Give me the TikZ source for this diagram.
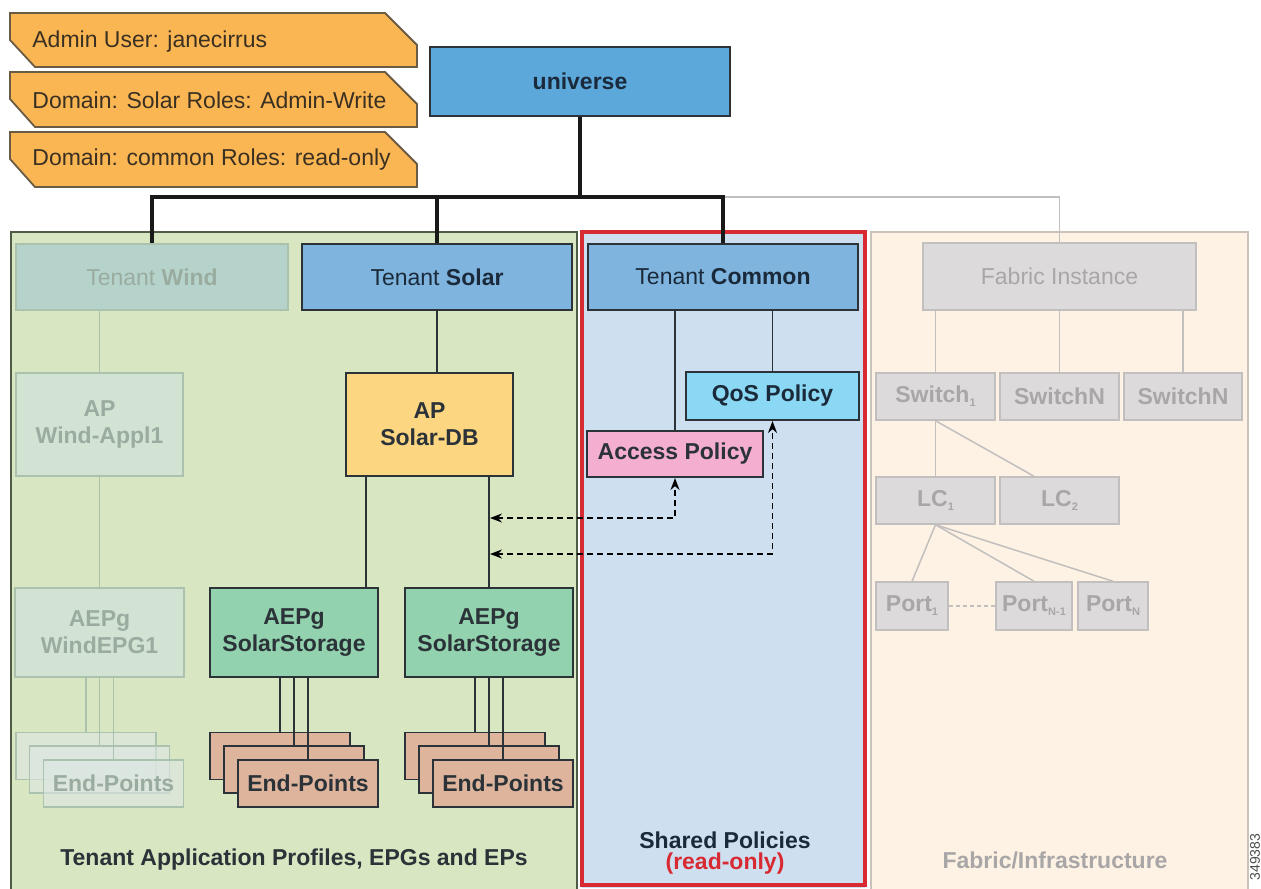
\documentclass[tikz,border=0pt]{standalone}
\usepackage{fontspec}
\setmainfont{Liberation Sans}
\usetikzlibrary{arrows.meta}

\definecolor{tagfill}{HTML}{FBB654}
\definecolor{tagline}{HTML}{6A5B44}
\definecolor{tagtext}{HTML}{3A3022}
\definecolor{ink}{HTML}{2B3238}
\definecolor{navy}{HTML}{1B2A3A}
\definecolor{unifill}{HTML}{5DA8DB}
\definecolor{tenantblue}{HTML}{7EB4DE}
\definecolor{apyellow}{HTML}{FDD682}
\definecolor{qoscyan}{HTML}{8AD8F4}
\definecolor{accpink}{HTML}{F3AED0}
\definecolor{epggreen}{HTML}{92D2AE}
\definecolor{eptan}{HTML}{DEB59C}
\definecolor{windtenant}{HTML}{B6D3CB}
\definecolor{windfill}{HTML}{D3E3D3}
\definecolor{windep}{HTML}{DDE7E4}
\definecolor{windline}{HTML}{ABC2AE}
\definecolor{windtext}{HTML}{9AACA0}
\definecolor{greenpanel}{HTML}{D8E6C1}
\definecolor{greenline}{HTML}{4F5B45}
\definecolor{bluepanel}{HTML}{CEDFF0}
\definecolor{roRed}{HTML}{D82A32}
\definecolor{creampanel}{HTML}{FDF2E3}
\definecolor{creamline}{HTML}{C9C3BB}
\definecolor{fabfill}{HTML}{DDDADB}
\definecolor{fabline}{HTML}{C2BFBF}
\definecolor{fabtext}{HTML}{A9A6A7}

\newcommand\lowsub[1]{\raisebox{-2pt}{\fontsize{5.5}{5.5}\selectfont #1}}

\begin{document}
\begin{tikzpicture}[x=0.5pt,y=-0.5pt,
  every node/.style={font=\fontsize{11.5}{13.5}\selectfont, align=center, inner sep=0pt},
  bold/.style={font=\fontsize{11.5}{13.5}\selectfont\bfseries},
  sz/.style 2 args={minimum width=#1, minimum height=#2},
  solidbox/.style={draw=ink, line width=1pt, text=navy},
  fadedbox/.style={draw=windline, line width=0.75pt, text=windtext},
  fabbox/.style={draw=fabline, fill=fabfill, line width=0.75pt, text=fabtext},
  epbox/.style={draw=ink, line width=0.9pt, fill=eptan, text=ink, sz={70pt}{23.5pt}, bold},
  epfaded/.style={draw=windline, line width=0.75pt, fill=windep, fill opacity=0.6, text opacity=1, text=windtext, sz={70pt}{23.5pt}, bold},
  tagbox/.style={draw=tagline, fill=tagfill, line width=0.9pt},
  trunk/.style={draw=black!90, line width=2pt},
  edge/.style={draw=ink, line width=0.75pt},
  windedge/.style={draw=windline, line width=0.75pt},
  fabedge/.style={draw=fabline, line width=0.75pt},
  sharelink/.style={draw=black, line width=0.8pt, dash pattern=on 3pt off 2pt, {Stealth[length=6pt,width=4.5pt]}-{Stealth[length=6pt,width=4.5pt]}}]
\useasboundingbox (0,0) rectangle (1261,888);

% panels
\draw[greenline, fill=greenpanel, line width=0.75pt] (11,232) rectangle (577,895);
\fill[bluepanel] (582,232) rectangle (865,888);
\draw[roRed, line width=2pt] (582,232) rectangle (865,885);
\draw[creamline, fill=creampanel, line width=0.75pt] (871,232) rectangle (1248,895);

% role tags
\draw[tagbox] (10,13) -- (385,13) -- (417,45) -- (417,67) -- (35,67) -- (10,40) -- cycle;
\draw[tagbox] (10,72) -- (385,72) -- (417,104) -- (417,127) -- (35,127) -- (10,99) -- cycle;
\draw[tagbox] (10,132) -- (385,132) -- (417,164) -- (417,187) -- (35,187) -- (10,159) -- cycle;
\node[anchor=west, text=tagtext] (taguser) at (32,42) {Admin User: janecirrus};
\node[anchor=west, text=tagtext] (tagsolar) at (32,100) {Domain: Solar Roles: Admin-Write};
\node[anchor=west, text=tagtext] (tagcommon) at (32,160) {Domain: common Roles: read-only};

% tree
\node[solidbox, fill=unifill, sz={150pt}{34.5pt}, bold] (universe) at (580,81.5) {universe};
\coordinate (bus) at (580,197);

\node[fadedbox, fill=windtenant, sz={136pt}{33pt}] (twind) at (152,277) {Tenant \textbf{Wind}};
\node[solidbox, fill=tenantblue, sz={135pt}{33pt}] (tsolar) at (437,277) {Tenant \textbf{Solar}};
\node[solidbox, fill=tenantblue, sz={135pt}{33pt}] (tcommon) at (723,277) {Tenant \textbf{Common}};
\node[fabbox, sz={136.5pt}{33.5pt}] (fabric) at (1059.5,276.5) {Fabric Instance};

\node[fadedbox, fill=windfill, sz={83.5pt}{51.5pt}, bold] (apwind) at (99.5,424.5) {AP\\Wind-Appl1};
\node[solidbox, fill=apyellow, sz={83.5pt}{51.5pt}, bold, text=ink] (apsolar) at (429.5,424.5) {AP\\Solar-DB};
\node[solidbox, fill=qoscyan, sz={86.5pt}{24pt}, bold] (qos) at (772.5,396) {QoS Policy};
\node[solidbox, fill=accpink, sz={88pt}{23pt}, bold, text=ink] (access) at (675,454) {Access Policy};

\node[fadedbox, fill=windfill, sz={84.5pt}{44.5pt}, bold] (aepgwind) at (99.5,632.5) {AEPg\\WindEPG1};
\node[solidbox, fill=epggreen, sz={84pt}{44.5pt}, bold, text=ink] (aepgsa) at (294,632.5) {AEPg\\SolarStorage};
\node[solidbox, fill=epggreen, sz={84pt}{44.5pt}, bold, text=ink] (aepgsb) at (489,632.5) {AEPg\\SolarStorage};

% end-point stacks
\node[epfaded] (epwa) at (86,756) {};
\node[epfaded] (epwb) at (99.5,769.5) {};
\node[epfaded] (epwc) at (113.5,783.5) {End-Points};
\node[epbox] (epsa1) at (280,756) {};
\node[epbox] (epsa2) at (294,769.5) {};
\node[epbox] (epsa3) at (308,783.5) {End-Points};
\node[epbox] (epsb1) at (475,756) {};
\node[epbox] (epsb2) at (489,769.5) {};
\node[epbox] (epsb3) at (503,783.5) {End-Points};

% fabric
\node[fabbox, sz={59.5pt}{23.5pt}, bold] (sw1) at (935.5,396.5) {Switch\lowsub{1}};
\node[fabbox, sz={59.5pt}{23.5pt}, bold] (swn) at (1059.5,396.5) {SwitchN};
\node[fabbox, sz={59pt}{23.5pt}, bold] (swm) at (1183,396.5) {SwitchN};
\node[fabbox, sz={59.5pt}{23.5pt}, bold] (lc1) at (935.5,500.5) {LC\lowsub{1}};
\node[fabbox, sz={59.5pt}{23.5pt}, bold] (lc2) at (1059.5,500.5) {LC\lowsub{2}};
\node[fabbox, sz={36pt}{24pt}, bold] (port1) at (912,606) {Port\lowsub{1}};
\node[fabbox, sz={38pt}{24pt}, bold] (portm) at (1034,606) {Port\lowsub{N-1}};
\node[fabbox, sz={35pt}{24pt}, bold] (portn) at (1113,606) {Port\lowsub{N}};

% connectors
\draw[fabedge] (tcommon.north |- bus) -| (fabric.north);
\draw[trunk] (twind.north) |- (bus) -| (tcommon.north);
\draw[trunk] (universe.south) -- (bus);
\draw[trunk] (tsolar.north) -- (tsolar.north |- bus);

\draw[windedge] (apwind.north) -- (apwind.north |- twind.south);
\draw[windedge] (apwind) -- (aepgwind);
\draw[windedge] (epwa.north) -- (epwa.north |- aepgwind.south);
\draw[windedge] (epwb.north) -- (epwb.north |- aepgwind.south);
\draw[windedge] (epwc.north) -- (epwc.north |- aepgwind.south);

\draw[edge] (tsolar.south) -- (tsolar.south |- apsolar.north);
\draw[edge] ([xshift=10.5pt]apsolar.south west) -- ([xshift=10.5pt]apsolar.south west |- aepgsa.north);
\draw[edge] (aepgsb.north) -- (aepgsb.north |- apsolar.south);
\draw[edge] (epsa1.north) -- (epsa1.north |- aepgsa.south);
\draw[edge] (epsa2.north) -- (epsa2.north |- aepgsa.south);
\draw[edge] (epsa3.north) -- (epsa3.north |- aepgsa.south);
\draw[edge] (epsb1.north) -- (epsb1.north |- aepgsb.south);
\draw[edge] (epsb2.north) -- (epsb2.north |- aepgsb.south);
\draw[edge] (epsb3.north) -- (epsb3.north |- aepgsb.south);

\draw[edge] (access.north) -- (access.north |- tcommon.south);
\draw[edge] (qos.north) -- (qos.north |- tcommon.south);
\coordinate (linka) at (490,518);
\coordinate (linkb) at (490,554);
\draw[sharelink] (linka) -| (access.south);
\draw[sharelink] (linkb) -| (qos.south);

\draw[fabedge] (sw1.north) -- (sw1.north |- fabric.south);
\draw[fabedge] (swn) -- (fabric);
\draw[fabedge] (swm.north) -- (swm.north |- fabric.south);
\draw[fabedge] (sw1) -- (lc1);
\draw[fabedge] (sw1.south) -- ([xshift=-12.75pt]lc2.north);
\draw[fabedge] (lc1.south) -- (port1.north);
\draw[fabedge] (lc1.south) -- (portm.north);
\draw[fabedge] (lc1.south) -- (portn.north);
\draw[fabedge, dash pattern=on 2pt off 1.5pt] (port1) -- (portm);

% panel titles
\node[bold, text=ink] (tapetitle) at (294,860) {Tenant Application Profiles, EPGs and EPs};
\node[bold, text=navy, font=\fontsize{11.5}{10.5}\selectfont\bfseries] (sharedtitle) at (725,853) {Shared Policies\\\textcolor{roRed}{(read-only)}};
\node[bold, text=fabtext] (fabtitle) at (1055,860) {Fabric/Infrastructure};
\node[rotate=90, font=\fontsize{7}{7}\selectfont, text=black!70] (figid) at (1255,857) {349383};
\end{tikzpicture}
\end{document}
